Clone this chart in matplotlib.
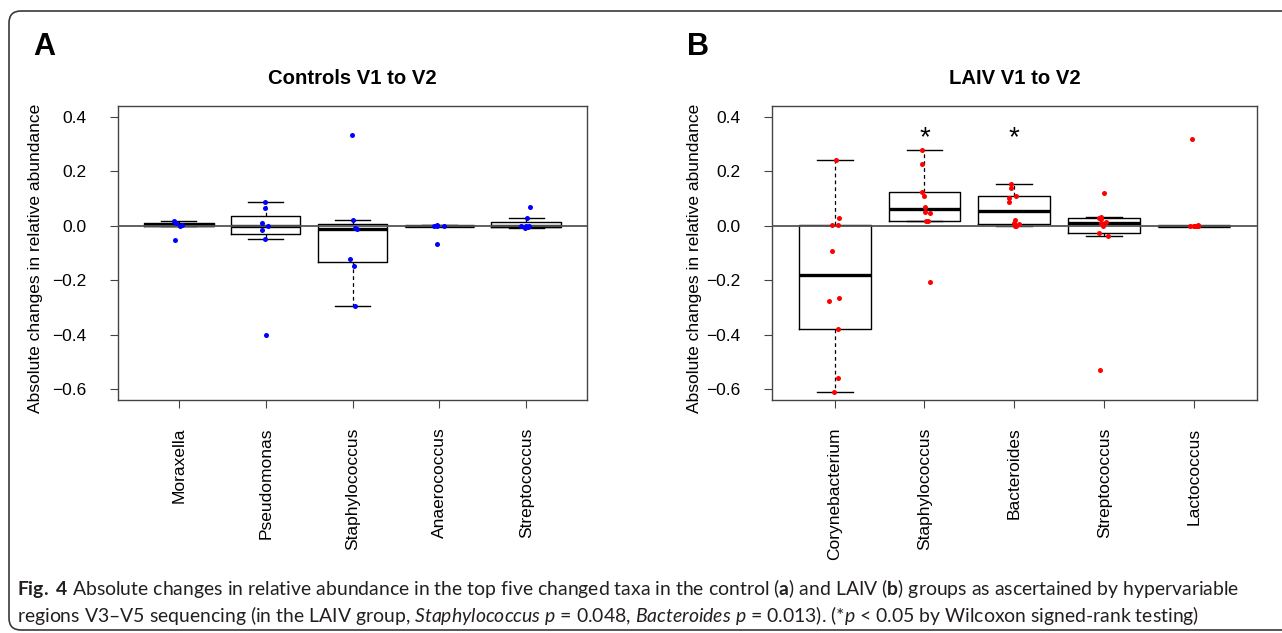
import matplotlib
matplotlib.use("Agg")
import matplotlib.pyplot as plt
import matplotlib.transforms as mtransforms
from matplotlib.patches import FancyBboxPatch
import numpy as np

# ---- data ----
ctrl_taxa = ["Moraxella", "Pseudomonas", "Staphylococcus", "Anaerococcus", "Streptococcus"]
ctrl_moraxella = [0.018, 0.011, 0.003, -0.001, -0.054]
ctrl_pseudomonas = [0.085, 0.065, 0.009, 0.0, -0.016, -0.048, -0.402]
ctrl_staphylococcus = [0.331, 0.021, -0.009, -0.011, -0.123, -0.147, -0.296]
ctrl_anaerococcus = [0.001, 0.0, -0.002, -0.003, -0.068]
ctrl_streptococcus = [0.070, 0.028, -0.001, -0.002, -0.003, -0.006, -0.009]

laiv_taxa = ["Corynebacterium", "Staphylococcus", "Bacteroides", "Streptococcus", "Lactococcus"]
laiv_corynebacterium = [0.241, 0.029, 0.001, 0.001, -0.095, -0.267, -0.275, -0.381, -0.560, -0.612]
laiv_staphylococcus = [0.277, 0.225, 0.124, 0.109, 0.070, 0.049, 0.047, 0.018, 0.018, -0.207]
laiv_bacteroides = [0.151, 0.137, 0.109, 0.101, 0.088, 0.022, 0.011, 0.005, 0.0, 0.0]
laiv_streptococcus = [0.118, 0.031, 0.028, 0.023, 0.013, 0.009, 0.0, -0.028, -0.038, -0.529]
laiv_lactococcus = [0.319, 0.001, 0.0, 0.0, 0.0, 0.0, 0.0, 0.0, 0.0, 0.0]
laiv_signif = ["", "*", "*", "", ""]

y_ticks = [-0.6, -0.4, -0.2, 0.0, 0.2, 0.4]

W, H = 1282, 633
FONT = "Liberation Sans"

plt.rcParams["font.family"] = FONT
plt.rcParams["mathtext.fontset"] = "custom"
plt.rcParams["mathtext.rm"] = "Lato"
plt.rcParams["mathtext.it"] = "Lato:italic"
plt.rcParams["mathtext.bf"] = "Lato:bold"


def fivenum(v):
    # Tukey's five-number summary, as R's boxplot uses
    x = np.sort(np.asarray(v, dtype=float))
    n = len(x)
    n4 = np.floor((n + 3) / 2) / 2
    d = np.array([1, n4, (n + 1) / 2, n + 1 - n4, n]) - 1
    return 0.5 * (x[np.floor(d).astype(int)] + x[np.ceil(d).astype(int)])


def box_stats(v):
    x = np.asarray(v, dtype=float)
    f = fivenum(x)
    iqr = f[3] - f[1]
    lo = x[x >= f[1] - 1.5 * iqr].min()
    hi = x[x <= f[3] + 1.5 * iqr].max()
    return dict(med=f[2], q1=f[1], q3=f[3], whislo=lo, whishi=hi, fliers=[])


def draw_panel(ax, taxa, groups, color, title, seed):
    pos = np.arange(1, len(taxa) + 1)
    ax.bxp([box_stats(g) for g in groups], positions=pos, widths=0.8,
           showfliers=False, capwidths=0.4,
           boxprops=dict(color="black", lw=1.0),
           medianprops=dict(color="black", lw=2.4, solid_capstyle="butt"),
           whiskerprops=dict(color="black", lw=0.9, linestyle=(0, (3, 2.5))),
           capprops=dict(color="black", lw=1.0))
    ax.axhline(0, color="#555555", lw=1.3, zorder=3)
    rng = np.random.default_rng(seed)
    for p, g in zip(pos, groups):
        jit = rng.uniform(-0.06, 0.06, len(g))
        ax.plot(p + jit, g, "o", color=color, ms=3.6, mec="none", zorder=4)
    ax.set_xlim(0.3, len(taxa) + 0.7)
    ax.set_ylim(-0.64, 0.44)
    ax.set_xticks(pos)
    ax.set_xticklabels(taxa, rotation=90, fontsize=12.5, va="top")
    ax.set_yticks(y_ticks)
    ax.set_yticklabels(["%.1f" % t if t >= 0 else "\u2212%.1f" % abs(t) for t in y_ticks],
                       fontsize=12.5)
    ax.tick_params(axis="y", direction="out", length=6, width=0.8, color="#444444", pad=16.5)
    ax.tick_params(axis="x", direction="out", length=6, width=0.8, color="#444444", pad=13.8)
    for s in ax.spines.values():
        s.set_color("#444444")
        s.set_linewidth(1.0)
    ax.set_title(title, fontsize=14.6, fontweight="bold", pad=15.6)


fig = plt.figure(figsize=(W / 100, H / 100), dpi=100)

top, bottom = 105.7, 400
axA = fig.add_axes([118 / W, 1 - bottom / H, (587 - 118) / W, (bottom - top) / H])
axB = fig.add_axes([771.7 / W, 1 - bottom / H, (1257 - 771.7) / W, (bottom - top) / H])

draw_panel(axA, ctrl_taxa,
           [ctrl_moraxella, ctrl_pseudomonas, ctrl_staphylococcus, ctrl_anaerococcus, ctrl_streptococcus],
           "#0000ff", "Controls V1 to V2", 3)
draw_panel(axB, laiv_taxa,
           [laiv_corynebacterium, laiv_staphylococcus, laiv_bacteroides, laiv_streptococcus, laiv_lactococcus],
           "#ff0000", "LAIV V1 to V2", 7)

for i, s in enumerate(laiv_signif):
    if s:
        axB.text(i + 1, 0.295, s, ha="center", va="baseline", fontsize=20)

ylab = "Absolute changes in relative abundance"
fig.text(36 / W, 1 - 258 / H, ylab, rotation=90, ha="center", va="center", fontsize=12.5)
fig.text(695 / W, 1 - 258 / H, ylab, rotation=90, ha="center", va="center", fontsize=12.5)

fig.text(33 / W, 1 - 55 / H, "A", fontsize=22, fontweight="bold", va="baseline")
fig.text(687 / W, 1 - 55 / H, "B", fontsize=22, fontweight="bold", va="baseline")

# rounded frame around the figure
frame = FancyBboxPatch((9, H - 630), 1320, 630 - 11,
                       boxstyle="round,pad=0,rounding_size=12",
                       transform=mtransforms.IdentityTransform(),
                       fill=False, ec="#3a3a3a", lw=1.2)
fig.patches.append(frame)

# caption
line1 = (r"$\mathbf{Fig.\ 4}$ Absolute changes in relative abundance in the top five changed taxa "
         r"in the control ($\mathbf{a}$) and LAIV ($\mathbf{b}$) groups as ascertained by hypervariable")
line2 = (r"regions V3–V5 sequencing (in the LAIV group, $\mathit{Staphylococcus}\ p$ = 0.048, "
         r"$\mathit{Bacteroides}\ p$ = 0.013). (*$p$ < 0.05 by Wilcoxon signed-rank testing)")
cap_kw = dict(family="Lato", color="#231f20", va="baseline", ha="left")
t1 = fig.text(17 / W, 1 - 595 / H, line1, fontsize=13, **cap_kw)
r = fig.canvas.get_renderer()
w1 = t1.get_window_extent(r).width
fs = 13 * 1220 / w1
t1.set_fontsize(fs)
fig.text(17 / W, 1 - 622 / H, line2, fontsize=fs, **cap_kw)

fig.savefig("out.png", dpi=100)
